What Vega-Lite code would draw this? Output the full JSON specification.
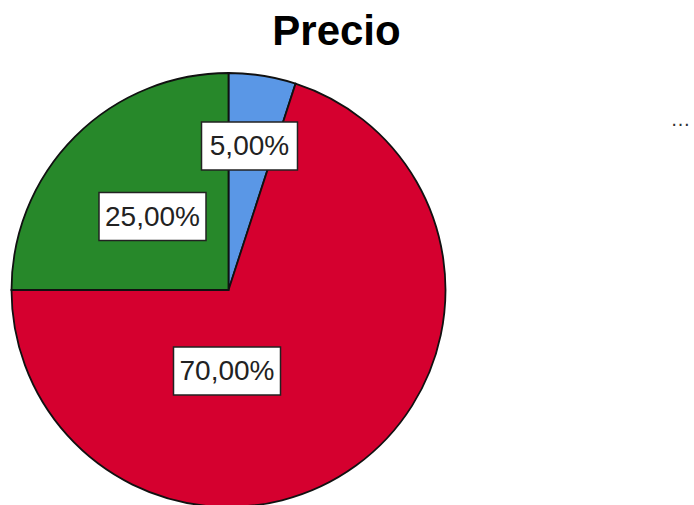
{
  "$schema": "https://vega.github.io/schema/vega-lite/v6.json",
  "autosize": {"type": "none"},
  "width": 457,
  "height": 434,
  "padding": {"left": 0, "top": 73, "right": 237, "bottom": 0},
  "background": "white",
  "config": {"view": {"stroke": null}},
  "title": {
    "text": "Precio",
    "font": "Liberation Sans",
    "fontSize": 42,
    "fontWeight": "bold",
    "color": "#000000",
    "anchor": "middle",
    "baseline": "alphabetic",
    "offset": -18,
    "dx": 108
  },
  "datasets": {
    "slices": [
      {"categoria": "A", "orden": 1, "pct": 5, "label": "5,00%", "lx": 21, "ly": 144},
      {"categoria": "B", "orden": 2, "pct": 70, "label": "70,00%", "lx": -1.5, "ly": -81},
      {"categoria": "C", "orden": 3, "pct": 25, "label": "25,00%", "lx": -76, "ly": 73.5}
    ],
    "extra": [{"t": "…", "x": 442, "y": 164}]
  },
  "layer": [
    {
      "data": {"name": "slices"},
      "mark": {"type": "arc", "outerRadius": 217, "stroke": "#111111", "strokeWidth": 1.8},
      "encoding": {
        "theta": {"field": "pct", "type": "quantitative", "stack": true},
        "order": {"field": "orden", "type": "quantitative"},
        "color": {
          "field": "categoria",
          "type": "nominal",
          "legend": null,
          "scale": {"domain": ["A", "B", "C"], "range": ["#5A97E6", "#D5002F", "#27882A"]}
        }
      }
    },
    {
      "data": {"name": "slices"},
      "mark": {"type": "point", "filled": true, "fill": "white", "stroke": "#222222", "strokeWidth": 1.5, "opacity": 1, "size": 11449},
      "encoding": {
        "x": {"field": "lx", "type": "quantitative", "scale": {"domain": [-228.5, 228.5], "nice": false, "zero": false}, "axis": null},
        "y": {"field": "ly", "type": "quantitative", "scale": {"domain": [-217, 217], "nice": false, "zero": false}, "axis": null},
        "shape": {
          "field": "label",
          "type": "nominal",
          "legend": null,
          "scale": {
            "domain": ["5,00%", "70,00%", "25,00%"],
            "range": [
              "M-0.897,-0.449L0.897,-0.449L0.897,0.449L-0.897,0.449Z",
              "M-1,-0.449L1,-0.449L1,0.449L-1,0.449Z",
              "M-1,-0.449L1,-0.449L1,0.449L-1,0.449Z"
            ]
          }
        }
      }
    },
    {
      "data": {"name": "slices"},
      "mark": {"type": "text", "font": "Liberation Sans", "fontSize": 28, "color": "#222222", "align": "center", "baseline": "middle", "dy": 1},
      "encoding": {
        "x": {"field": "lx", "type": "quantitative"},
        "y": {"field": "ly", "type": "quantitative"},
        "text": {"field": "label"}
      }
    },
    {
      "data": {"name": "extra"},
      "mark": {"type": "text", "font": "Liberation Sans", "fontSize": 20, "color": "#333333", "align": "left", "baseline": "alphabetic"},
      "encoding": {
        "x": {"field": "x", "type": "quantitative"},
        "y": {"field": "y", "type": "quantitative"},
        "text": {"field": "t"}
      }
    }
  ]
}
